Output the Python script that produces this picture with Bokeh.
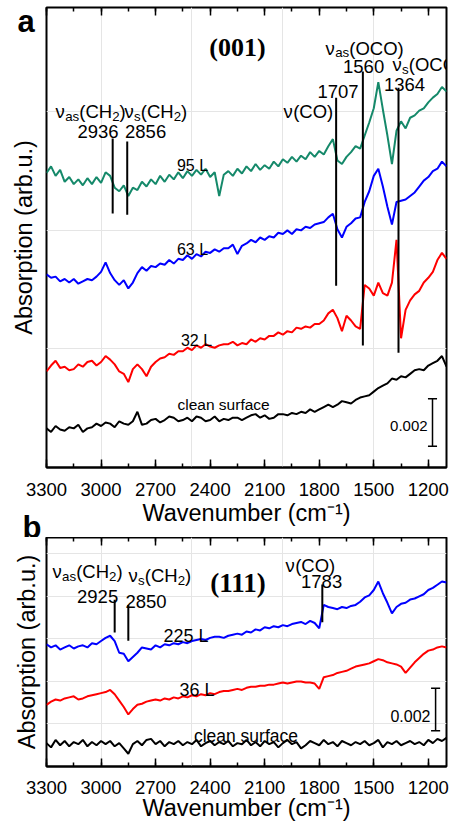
from bokeh.plotting import figure
from bokeh.models import (Range1d, LinearAxis, SingleIntervalTicker, FixedTicker, Label,
                          CustomJSTickFormatter)
from bokeh.layouts import column
from bokeh.core.properties import value
from bokeh.embed import file_html
from bokeh.resources import INLINE

# ---------------- data (absorbance in units of 1e-3, offset per trace) ----------------
wavenumber = list(range(3300, 1099, -25))   # 3300 ... 1100 cm-1

a_95L = [12.42, 12.70, 12.30, 12.55, 12.05, 12.25, 11.95, 12.15, 11.90, 12.20,
         11.95, 12.25, 12.00, 12.45, 12.30, 11.80, 11.65, 11.90, 11.45, 11.80,
         11.70, 12.05, 11.85, 12.15, 11.95, 12.30, 12.05, 12.35, 12.15, 12.45,
         12.20, 12.50, 12.30, 12.55, 12.35, 12.60, 12.25, 12.45, 11.45, 12.35,
         12.50, 12.30, 12.60, 12.40, 12.70, 12.50, 12.80, 12.55, 12.75, 12.60,
         12.90, 12.70, 13.00, 12.85, 13.10, 12.90, 13.15, 13.00, 13.30, 13.10,
         13.35, 13.20, 13.55, 13.85, 12.95, 12.80, 13.10, 13.30, 13.55, 13.45,
         14.00, 14.55, 15.15, 16.25, 15.10, 14.00, 12.80, 14.20, 14.60, 14.30,
         14.75, 14.85, 15.05, 15.15, 15.40, 15.60, 15.75, 16.05, 15.85]

a_63L = [8.15, 8.00, 8.05, 7.85, 7.95, 7.80, 7.95, 7.75, 7.85, 7.95,
         7.90, 8.05, 8.25, 8.65, 8.20, 7.90, 7.70, 7.90, 7.55, 7.80,
         8.20, 8.45, 8.30, 8.50, 8.45, 8.60, 8.55, 8.75, 8.60, 8.80,
         8.75, 8.95, 8.80, 9.00, 8.90, 9.10, 9.05, 9.20, 9.10, 9.25,
         9.25, 9.40, 9.00, 9.35, 9.45, 9.60, 9.50, 9.70, 9.60, 9.75,
         9.70, 9.90, 9.85, 10.00, 9.85, 10.05, 10.00, 10.15, 10.10, 10.25,
         10.30, 10.35, 10.55, 10.70, 10.05, 9.70, 10.15, 10.30, 10.50, 10.55,
         11.20, 11.65, 12.30, 12.60, 11.85, 11.00, 10.25, 11.20, 11.25, 11.30,
         11.45, 11.60, 11.85, 12.10, 12.25, 12.50, 12.60, 12.90, 12.70]

a_32L = [4.05, 4.30, 4.50, 4.20, 4.25, 4.10, 4.15, 4.35, 4.25, 4.45,
         4.50, 4.30, 4.45, 4.70, 4.55, 4.35, 4.05, 3.95, 3.60, 4.15,
         4.35, 4.15, 3.85, 4.25, 4.45, 4.60, 4.65, 4.80, 4.75, 4.90,
         4.90, 5.05, 4.95, 5.15, 5.05, 5.20, 5.10, 5.05, 5.15, 5.20,
         5.20, 5.30, 5.15, 5.25, 5.20, 5.40, 5.30, 5.45, 5.40, 5.55,
         5.55, 5.70, 5.60, 5.75, 5.70, 5.90, 5.85, 5.95, 5.90, 6.05,
         6.05, 6.20, 6.50, 6.65, 6.30, 5.75, 6.40, 6.20, 5.95, 5.85,
         7.70, 7.55, 7.25, 7.80, 7.35, 7.25, 7.80, 9.60, 5.45, 6.65,
         7.05, 7.30, 7.45, 7.80, 8.00, 8.25, 8.75, 9.05, 8.80]

a_clean = [1.65, 1.50, 1.75, 1.60, 1.55, 1.70, 1.65, 1.80, 1.50, 1.65,
           1.70, 1.85, 1.75, 1.90, 1.85, 1.70, 1.95, 1.85, 1.80, 1.95,
           2.35, 1.80, 1.85, 2.00, 2.05, 1.90, 2.00, 2.15, 2.10, 1.95,
           2.00, 2.10, 1.95, 2.15, 2.10, 1.95, 2.00, 2.15, 1.95, 2.05,
           2.00, 2.10, 2.10, 2.00, 2.10, 2.20, 2.25, 2.10, 2.20, 2.05,
           2.10, 2.25, 2.25, 2.20, 2.30, 2.25, 2.35, 2.30, 2.45, 2.35,
           2.45, 2.55, 2.65, 2.55, 2.65, 2.80, 2.75, 2.70, 2.85, 2.95,
           3.00, 3.05, 3.20, 3.35, 3.45, 3.55, 3.75, 3.70, 3.85, 3.80,
           3.95, 4.10, 4.15, 4.10, 4.30, 4.40, 4.50, 4.70, 4.25]

b_225L = [5.75, 5.60, 5.70, 5.50, 5.60, 5.70, 5.55, 5.65, 5.70, 5.60,
          5.80, 5.75, 5.90, 6.05, 6.15, 5.90, 5.35, 5.30, 4.95, 5.15,
          5.35, 5.60, 5.55, 5.50, 5.70, 5.60, 5.75, 5.70, 5.80, 5.75,
          5.85, 5.80, 5.90, 5.95, 6.00, 5.95, 6.05, 6.10, 6.10, 6.05,
          6.15, 6.20, 6.25, 6.20, 6.35, 6.30, 6.45, 6.40, 6.55, 6.50,
          6.60, 6.55, 6.65, 6.60, 6.70, 6.75, 6.80, 6.70, 6.85, 6.75,
          6.50, 7.60, 7.50, 7.45, 7.40, 7.50, 7.45, 7.55, 7.60, 7.75,
          7.95, 8.05, 8.30, 8.70, 8.15, 7.70, 7.20, 7.50, 7.65, 7.70,
          7.85, 7.90, 8.00, 8.10, 8.30, 8.40, 8.55, 8.70, 8.65]

b_36L = [2.90, 3.05, 3.15, 3.10, 3.20, 3.25, 3.30, 3.15, 3.20, 3.30,
         3.35, 3.40, 3.45, 3.50, 3.60, 3.40, 3.10, 2.80, 2.45, 2.70,
         2.90, 2.95, 3.05, 3.10, 3.15, 3.10, 3.20, 3.15, 3.25, 3.20,
         3.30, 3.25, 3.35, 3.30, 3.40, 3.35, 3.45, 3.40, 3.50, 3.55,
         3.55, 3.60, 3.65, 3.60, 3.70, 3.75, 3.75, 3.80, 3.80, 3.85,
         3.85, 3.90, 3.95, 3.90, 3.95, 4.00, 4.00, 3.95, 3.95, 3.90,
         3.65, 4.20, 4.25, 4.30, 4.40, 4.45, 4.50, 4.60, 4.70, 4.75,
         4.80, 4.85, 4.95, 5.05, 5.00, 4.90, 4.85, 4.80, 4.70, 4.40,
         4.65, 4.90, 5.10, 5.30, 5.45, 5.50, 5.60, 5.65, 5.60]

b_clean = [1.10, 0.90, 1.25, 1.00, 1.20, 0.95, 1.15, 1.05, 1.25, 0.95,
           1.15, 1.00, 1.20, 1.05, 1.20, 0.95, 1.10, 0.85, 0.60, 1.05,
           1.20, 1.00, 1.25, 1.30, 1.05, 1.20, 0.95, 1.15, 1.05, 1.20,
           1.00, 1.15, 1.05, 1.25, 0.95, 1.10, 1.20, 1.00, 1.15, 1.05,
           1.20, 0.95, 1.10, 1.05, 1.25, 1.00, 1.15, 0.95, 1.20, 1.05,
           1.15, 0.90, 1.10, 1.25, 1.05, 1.15, 0.85, 1.00, 1.20, 1.10,
           1.00, 1.25, 1.05, 1.15, 0.95, 1.20, 1.10, 1.00, 1.15, 1.05,
           1.20, 1.00, 1.10, 1.25, 0.90, 1.15, 1.05, 1.20, 1.00, 1.10,
           1.20, 1.05, 1.15, 1.00, 1.25, 1.10, 1.30, 1.20, 1.35]

# band marker lines
a_band_wn = [2936, 2856, 1707, 1560, 1364]
a_band_lo = [10.71, 10.66, 7.67, 5.14, 4.84]
a_band_hi = [13.88, 13.75, 15.59, 16.70, 16.02]
b_band_wn = [2925, 2850, 1783]
b_band_lo = [6.30, 5.91, 6.78]
b_band_hi = [7.84, 7.60, 8.56]

# scale bars (0.002 = 2 units)
a_bar = (1177, 0.90, 2.90)
b_bar = (1160, 1.68, 3.68)

GREEN, BLUE, RED, BLACK = "#15896a", "#0000ff", "#ff0000", "#000000"
FONT = "Liberation Sans"
W = {"ν": 0.52, "a": 0.556, "s": 0.5, "(": 0.333, ")": 0.333, "C": 0.722,
     "H": 0.722, "O": 0.778, "2": 0.556}


def rich(p, x, y, parts, size=18.5):
    off = 0.0
    for s, sub in parts:
        fs = size * 0.72 if sub else size
        p.text(x=[x], y=[y], text=[s], x_offset=off, y_offset=(size * 0.25 if sub else 0),
               text_font=value(FONT), text_font_size=f"{fs:.1f}px",
               text_align="left", text_baseline="alphabetic", text_color="black")
        off += sum(W[c] for c in s) * fs


def plain(p, x, y, s, size, align="center", font=FONT, style="normal"):
    p.text(x=[x], y=[y], text=[s], text_font=value(font), text_font_size=f"{size}px",
           text_font_style=style, text_align=align, text_baseline="alphabetic",
           text_color="black")


def letter(p, x, y, s):
    # panel letter in the left side panel (side-panel annotations are not clipped to the frame)
    p.add_layout(Label(x=x, y=y, text=s, text_font=FONT, text_font_style="bold",
                       text_font_size="31px", text_baseline="middle", text_align="left",
                       text_color="black"), "left")


def make_fig(height, ymax, top, bottom, tick_standoff, title_standoff, title_lh, ylab_standoff,
             letters):
    p = figure(width=454, height=height, x_range=Range1d(3300, 1100), y_range=Range1d(0, ymax),
               output_backend="svg", toolbar_location=None, title=None,
               x_axis_location=None, y_axis_location=None,
               min_border_left=46, min_border_right=8, min_border_top=top,
               min_border_bottom=bottom)
    p.outline_line_color = "black"
    p.outline_line_width = 2
    p.outline_line_alpha = 1.0
    p.background_fill_color = "white"
    p.border_fill_color = "white"

    bx = LinearAxis(ticker=SingleIntervalTicker(interval=300, num_minor_ticks=2),
                    axis_label="Wavenumber (cm⁻¹)")
    bx.axis_line_color = "black"
    bx.axis_line_width = 2
    bx.major_tick_in, bx.major_tick_out = 8, 0
    bx.minor_tick_in, bx.minor_tick_out = 4, 0
    bx.major_tick_line_width = 1.5
    bx.minor_tick_line_width = 1.5
    bx.major_label_text_font = FONT
    bx.major_label_text_font_size = "18.5px"
    bx.major_label_text_color = "black"
    bx.major_label_standoff = tick_standoff
    bx.axis_label_text_font = FONT
    bx.axis_label_text_font_size = "23.5px"
    bx.axis_label_text_font_style = "normal"
    bx.axis_label_text_color = "black"
    bx.axis_label_text_line_height = title_lh
    bx.axis_label_standoff = title_standoff
    p.add_layout(bx, "below")

    tx = LinearAxis(ticker=SingleIntervalTicker(interval=300, num_minor_ticks=2),
                    formatter=CustomJSTickFormatter(code="return ''"))
    tx.axis_line_color = None
    tx.major_tick_in, tx.major_tick_out = 8, 0
    tx.minor_tick_in, tx.minor_tick_out = 4, 0
    tx.major_tick_line_width = 1.5
    tx.minor_tick_line_width = 1.5
    tx.major_label_text_font_size = "1px"
    tx.major_label_standoff = 0
    p.add_layout(tx, "above")

    for (lx, ly_, s) in letters:
        letter(p, lx, ly_, s)

    ly = LinearAxis(ticker=FixedTicker(ticks=[]), axis_label="Absorption (arb.u.)")
    ly.axis_line_color = None
    ly.major_tick_line_color = None
    ly.minor_tick_line_color = None
    ly.major_label_text_font_size = "1px"
    ly.major_label_standoff = 0
    ly.axis_label_text_font = FONT
    ly.axis_label_text_font_size = "23.5px"
    ly.axis_label_text_font_style = "normal"
    ly.axis_label_text_color = "black"
    ly.axis_label_standoff = ylab_standoff
    p.add_layout(ly, "left")
    return p


# ---------------- panel a (also carries the letter of panel b, drawn below its axis) --------
pa = make_fig(537, 19.40, 7, 70, 15, 1, 1.0, -26,
              [(3460, 18.79, "a"), (3432, -2.54, "b")])
for ys, c in [(a_clean, BLACK), (a_32L, RED), (a_63L, BLUE), (a_95L, GREEN)]:
    pa.line(wavenumber, ys, line_color=c, line_width=2)
pa.segment(x0=a_band_wn, y0=a_band_lo, x1=a_band_wn, y1=a_band_hi, line_color="black", line_width=2)
x, y0, y1 = a_bar
pa.segment(x0=[x, x - 25, x - 25], y0=[y0, y0, y1], x1=[x, x + 25, x + 25], y1=[y1, y0, y1],
           line_color="black", line_width=1.5)

rich(pa, 3250, 15.0, [("ν", False), ("as", True), ("(CH", False), ("2", True), (")", False)])
rich(pa, 2871, 15.0, [("ν", False), ("s", True), ("(CH", False), ("2", True), (")", False)])
plain(pa, 3017, 14.15, "2936", 18.5)
plain(pa, 2755, 14.15, "2856", 18.5)
rich(pa, 1996, 15.03, [("ν", False), ("(CO)", False)])
plain(pa, 1697, 15.85, "1707", 18.5)
rich(pa, 1765, 17.69, [("ν", False), ("as", True), ("(OCO)", False)])
plain(pa, 1556, 16.92, "1560", 18.5)
rich(pa, 1397, 17.0, [("ν", False), ("s", True), ("(OCO", False)])
plain(pa, 1331, 16.15, "1364", 18.5)
plain(pa, 2250, 17.73, "(001)", 26, font="Liberation Serif", style="bold")
plain(pa, 2497, 12.75, "95 L", 16)
plain(pa, 2497, 9.21, "63 L", 16)
plain(pa, 2475, 5.37, "32 L", 16)
plain(pa, 2326, 2.66, "clean surface", 15.5)
plain(pa, 1204, 1.73, "0.002", 15, align="right")

# ---------------- panel b ----------------
pb = make_fig(292, 10.77, 0, 63, 14, -2, 1.0, 7, [])
for ys, c in [(b_clean, BLACK), (b_36L, RED), (b_225L, BLUE)]:
    pb.line(wavenumber, ys, line_color=c, line_width=2)
pb.segment(x0=b_band_wn, y0=b_band_lo, x1=b_band_wn, y1=b_band_hi, line_color="black", line_width=2)
x, y0, y1 = b_bar
pb.segment(x0=[x, x - 25, x - 25], y0=[y0, y0, y1], x1=[x, x + 25, x + 25], y1=[y1, y0, y1],
           line_color="black", line_width=1.5)

rich(pb, 3267, 9.17, [("ν", False), ("as", True), ("(CH", False), ("2", True), (")", False)])
plain(pb, 3019, 8.0, "2925", 18.5)
rich(pb, 2849, 8.96, [("ν", False), ("s", True), ("(CH", False), ("2", True), (")", False)])
plain(pb, 2753, 7.76, "2850", 18.5)
rich(pb, 1985, 9.44, [("ν", False), ("(CO)", False)])
plain(pb, 1787, 8.72, "1783", 18.5)
plain(pb, 2247, 8.65, "(111)", 27, font="Liberation Serif", style="bold")
plain(pb, 2533, 6.15, "225 L", 18)
plain(pb, 2472, 3.59, "36 L", 18)
plain(pb, 2203, 1.44, "clean surface", 17.5)
plain(pb, 1188, 2.39, "0.002", 16, align="right")

layout = column(pa, pb, spacing=0)
open("out.html", "w").write(file_html(layout, INLINE))
